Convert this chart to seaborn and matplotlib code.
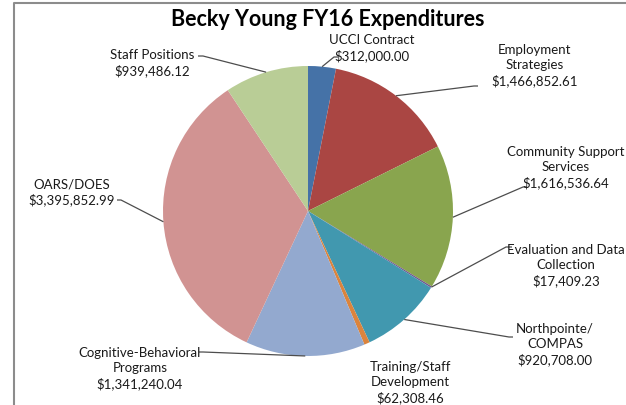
import numpy as np
import matplotlib
matplotlib.use("Agg")
import matplotlib.pyplot as plt
import seaborn as sns

# Data (clockwise from 12 o'clock)
categories = ["UCCI Contract", "Employment\nStrategies", "Community Support\nServices",
              "Evaluation and Data\nCollection", "Northpointe/\nCOMPAS",
              "Training/Staff\nDevelopment", "Cognitive-Behavioral\nPrograms",
              "OARS/DOES", "Staff Positions"]
amounts = [312000.00, 1466852.61, 1616536.64, 17409.23, 920708.00,
           62308.46, 1341240.04, 3395852.99, 939486.12]
colors = ["#4572A7", "#AA4643", "#89A54E", "#71588F", "#4198AF",
          "#DB843D", "#93A9CF", "#D19392", "#B9CD96"]

sns.set_style("white")
plt.rcParams["font.family"] = ["Lato", "DejaVu Sans"]

W, H = 626, 406
fig = plt.figure(figsize=(W / 100, H / 100), dpi=100)
ax = fig.add_axes([0, 0, 1, 1])

cx, cy, r = 308, H - 212, 145
wedges, _ = ax.pie(amounts, colors=colors, startangle=90, counterclock=False,
                   center=(cx, cy), radius=r, wedgeprops=dict(linewidth=0))
ax.set_xlim(0, W)
ax.set_ylim(0, H)
ax.set_aspect("equal")
ax.axis("off")

# label layout (pixel positions, y measured from top): text centre, leader start, bend
layout = [
    ((372, 48.5), (338, 58), (334, 58)),
    ((535, 66), (478, 87), (474, 87)),
    ((566, 168), (527, 188), (523, 188)),
    ((566, 266), (512, 248), (506, 248)),
    ((555, 345), (513, 338), (509, 338)),
    ((410, 383), None, None),
    ((140, 369), (199, 353), (203, 353)),
    ((72, 192.5), (117, 201), (121, 201)),
    ((152, 63.5), (198, 57), (203, 57)),
]

for w, cat, amt, (tc, ls, lb) in zip(wedges, categories, amounts, layout):
    label = f"{cat}\n${amt:,.2f}"
    ax.text(tc[0], H - tc[1], label, ha="center", va="center", fontsize=9.5,
            linespacing=1.3, color="#1a1a1a")
    if ls is not None:
        mid = np.deg2rad((w.theta1 + w.theta2) / 2)
        ex, ey = cx + r * np.cos(mid), cy + r * np.sin(mid)
        ax.plot([ls[0], lb[0], ex], [H - ls[1], H - lb[1], ey],
                color="#4d4d4d", lw=0.9, solid_capstyle="butt")

ax.text(328, H - 20, "Becky Young FY16 Expenditures", ha="center", va="center",
        fontsize=15.5, fontweight="bold", color="black")

# chart frame (partly cropped in the reference)
ax.plot([13.5, 13.5, W + 5], [-5, H - 3.5, H - 3.5], color="#8c8c8c", lw=1.5,
        clip_on=False)

fig.savefig("out.png", dpi=100)
